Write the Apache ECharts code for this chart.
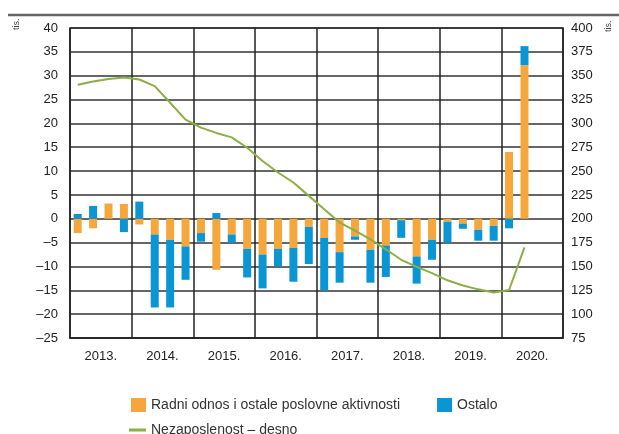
<!DOCTYPE html>
<html>
<head>
<meta charset="utf-8" />
<title>Zaposlenost</title>
<script src="https://cdn.jsdelivr.net/npm/echarts@6/dist/echarts.min.js"></script>
<style>
  html, body { margin: 0; padding: 0; background: #fff; }
  #chart { width: 619px; height: 434px; }
</style>
</head>
<body>
<div id="chart"></div>
<script>
  // godine (oznake na osi x)
  var years = ['2013.', '2014.', '2015.', '2016.', '2017.', '2018.', '2019.', '2020.'];
  // tromjesecja - jedno mjesto za svaki stupac
  var quarters = [];
  years.forEach(function (y) {
    for (var q = 1; q <= 4; q++) quarters.push(y + ' Q' + q);
  });

  // Radni odnos i ostale poslovne aktivnosti (tis.)
  var radni = [-3, -2, 3.2, 3.1, -1.2, -3.3, -4.4, -5.8,
               -3, -10.7, -3.3, -6.3, -7.5, -6.3, -6.1, -1.7,
               -4, -7, -3.7, -6.5, -5.6, -0.3, -7.9, -4.4,
               -0.6, -1, -2.3, -1.5, 14, 32.2, null, null];
  // Ostalo (tis.)
  var ostalo = [1, 2.7, 0, -2.8, 3.6, -15.3, -14.2, -7,
                -1.8, 1.2, -1.7, -6, -7.1, -3.7, -7.1, -7.8,
                -11, -6.4, -0.7, -6.9, -6.6, -3.7, -5.7, -4.2,
                -4.4, -1.1, -2.3, -3.1, -2, 4, null, null];
  // Nezaposlenost - desno (tis.)
  var nezap = [340.5, 344, 346.5, 348, 346, 339, 321.6, 304,
               295.5, 290, 285.3, 274.5, 260.5, 248.5, 238, 224,
               210, 196, 187.5, 178.5, 168, 157, 149.5, 143,
               135.5, 130, 126, 122.8, 125.3, 170, null, null];

  var FONT = '"Liberation Sans Narrow", "Arial Narrow", "Liberation Sans", sans-serif';
  var ORANGE = '#F6A73B', BLUE = '#0A95D5', GREEN = '#8BAE45';

  function minus(v) { return String(v).replace('-', '\u2013'); }

  var chart = echarts.init(document.getElementById('chart'));
  chart.setOption({
    animation: false,
    grid: {
      left: 70, right: 56, top: 28, bottom: 96,
      show: true, borderColor: '#222', borderWidth: 1.5
    },
    legend: [{
      data: ['Radni odnos i ostale poslovne aktivnosti', 'Ostalo'],
      left: 126, top: 393,
      itemWidth: 15, itemHeight: 14, itemGap: 37, icon: 'rect',
      textStyle: { fontFamily: FONT, fontSize: 14, color: '#333' }
    }, {
      data: ['Nezaposlenost \u2013 desno'],
      left: 124, top: 418,
      itemWidth: 17, itemHeight: 3, icon: 'rect',
      textStyle: { fontFamily: FONT, fontSize: 14, color: '#333' }
    }],
    xAxis: [{
      type: 'category', data: quarters, show: false
    }, {
      type: 'category', data: years, position: 'bottom',
      axisLine: { show: true, lineStyle: { color: '#222', width: 1.5 } },
      axisTick: { show: false },
      axisLabel: { margin: 12, fontFamily: FONT, fontSize: 13, color: '#222' },
      splitLine: { show: true, interval: 0, lineStyle: { color: '#222', width: 1.5 } }
    }],
    yAxis: [{
      type: 'value', min: -25, max: 40, interval: 5,
      axisLine: { show: false }, axisTick: { show: false },
      axisLabel: { margin: 12, fontFamily: FONT, fontSize: 13, color: '#222', formatter: minus },
      splitLine: { show: true, lineStyle: { color: '#333', width: 1.5 } }
    }, {
      type: 'value', min: 75, max: 400, interval: 25, position: 'right',
      axisLine: { show: false }, axisTick: { show: false },
      axisLabel: { margin: 8, fontFamily: FONT, fontSize: 13, color: '#222' },
      splitLine: { show: false }
    }],
    graphic: [
      { type: 'line', shape: { x1: 8, y1: 15, x2: 619, y2: 15 }, style: { stroke: '#666', lineWidth: 2.5 } },
      { type: 'text', x: 12, y: 30, rotation: Math.PI / 2, style: { text: 'tis.', font: '9px ' + FONT, fill: '#444' } },
      { type: 'text', x: 604, y: 32, rotation: Math.PI / 2, style: { text: 'tis.', font: '9px ' + FONT, fill: '#444' } }
    ],
    series: [{
      name: 'Radni odnos i ostale poslovne aktivnosti',
      type: 'bar', stack: 'z', barWidth: 8,
      itemStyle: { color: ORANGE },
      data: radni
    }, {
      name: 'Ostalo',
      type: 'bar', stack: 'z', barWidth: 8,
      itemStyle: { color: BLUE },
      data: ostalo
    }, {
      name: 'Nezaposlenost \u2013 desno',
      type: 'line', yAxisIndex: 1, symbol: 'none',
      lineStyle: { color: GREEN, width: 2 },
      itemStyle: { color: GREEN },
      data: nezap
    }]
  });
</script>
</body>
</html>
